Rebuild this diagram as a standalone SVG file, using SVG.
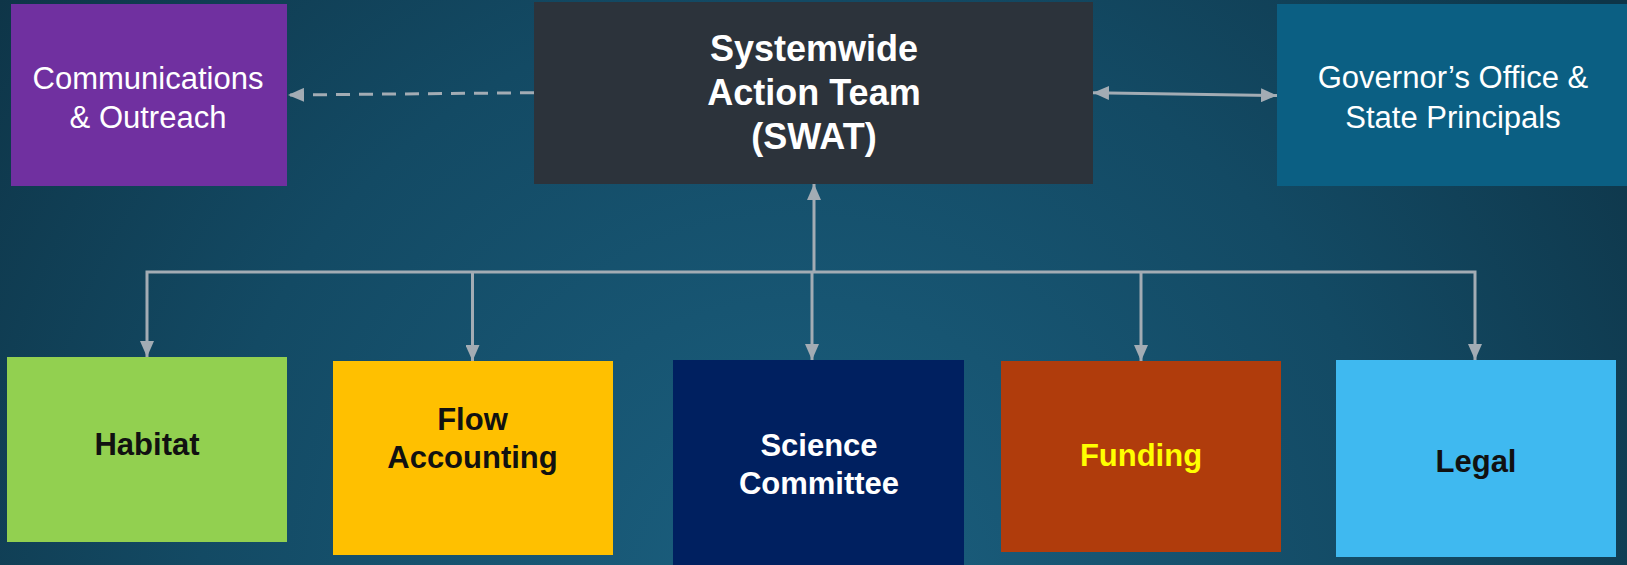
<svg xmlns="http://www.w3.org/2000/svg" width="1627" height="565" viewBox="0 0 1627 565">
<style>
.lbl{font-family:"Liberation Sans",Arial,sans-serif;text-anchor:middle}
.reg{font-size:31px;fill:#ffffff}
.bold{font-size:31px;font-weight:bold}
.conn{stroke:#a3acb4;stroke-width:3;fill:none}
</style>
<defs>
<radialGradient id="bg" cx="800" cy="600" r="1000" gradientUnits="userSpaceOnUse">
<stop offset="0" stop-color="#1b6080"/>
<stop offset="0.6" stop-color="#134a64"/>
<stop offset="1" stop-color="#0e3548"/>
</radialGradient>
<marker id="ah" viewBox="0 0 16 14" refX="16" refY="7" markerWidth="16" markerHeight="14" markerUnits="userSpaceOnUse" orient="auto-start-reverse">
<path d="M0,0 L16,7 L0,14 z" fill="#a3acb4"/>
</marker>
</defs>
<rect x="0" y="0" width="1627" height="565" fill="url(#bg)"/>

<g id="connectors">
<line class="conn" x1="534" y1="92.7" x2="288" y2="95" stroke-dasharray="14 9" marker-end="url(#ah)"/>
<line class="conn" x1="1093" y1="92.7" x2="1277" y2="95.5" marker-start="url(#ah)" marker-end="url(#ah)"/>
<line class="conn" x1="814" y1="272" x2="814" y2="184" marker-end="url(#ah)"/>
<line class="conn" x1="812" y1="272" x2="812" y2="360" marker-end="url(#ah)"/>
<polyline class="conn" points="147,357 147,272 1475,272 1475,360" marker-start="url(#ah)" marker-end="url(#ah)"/>
<line class="conn" x1="472.5" y1="272" x2="472.5" y2="361" marker-end="url(#ah)"/>
<line class="conn" x1="1141" y1="272" x2="1141" y2="361" marker-end="url(#ah)"/>
</g>

<g id="comm">
<rect x="11" y="4" width="276" height="182" fill="#7030a0"/>
<text class="lbl reg" x="148" y="89">Communications</text>
<text class="lbl reg" x="148" y="128">&amp; Outreach</text>
</g>

<g id="swat">
<rect x="534" y="2" width="559" height="182" fill="#2c333b"/>
<text class="lbl" font-size="36" font-weight="bold" fill="#ffffff" x="814" y="61">Systemwide</text>
<text class="lbl" font-size="36" font-weight="bold" fill="#ffffff" x="814" y="105">Action Team</text>
<text class="lbl" font-size="36" font-weight="bold" fill="#ffffff" x="814" y="149">(SWAT)</text>
</g>

<g id="governor">
<rect x="1277" y="4" width="350" height="182" fill="#0b5f83"/>
<text class="lbl reg" x="1453" y="88">Governor’s Office &amp;</text>
<text class="lbl reg" x="1453" y="128">State Principals</text>
</g>

<g id="habitat">
<rect x="7" y="357" width="280" height="185" fill="#92d050"/>
<text class="lbl bold" fill="#111111" x="147" y="455">Habitat</text>
</g>

<g id="flow">
<rect x="333" y="361" width="280" height="194" fill="#ffc000"/>
<text class="lbl bold" fill="#111111" x="472.5" y="430">Flow</text>
<text class="lbl bold" fill="#111111" x="472.5" y="468">Accounting</text>
</g>

<g id="science">
<rect x="673" y="360" width="291" height="205" fill="#002060"/>
<text class="lbl bold" fill="#ffffff" x="819" y="456">Science</text>
<text class="lbl bold" fill="#ffffff" x="819" y="494">Committee</text>
</g>

<g id="funding">
<rect x="1001" y="361" width="280" height="191" fill="#b03c0c"/>
<text class="lbl bold" fill="#ffff00" x="1141" y="466">Funding</text>
</g>

<g id="legal">
<rect x="1336" y="360" width="280" height="197" fill="#3fb9f0"/>
<text class="lbl bold" fill="#111111" x="1476" y="472">Legal</text>
</g>
</svg>
